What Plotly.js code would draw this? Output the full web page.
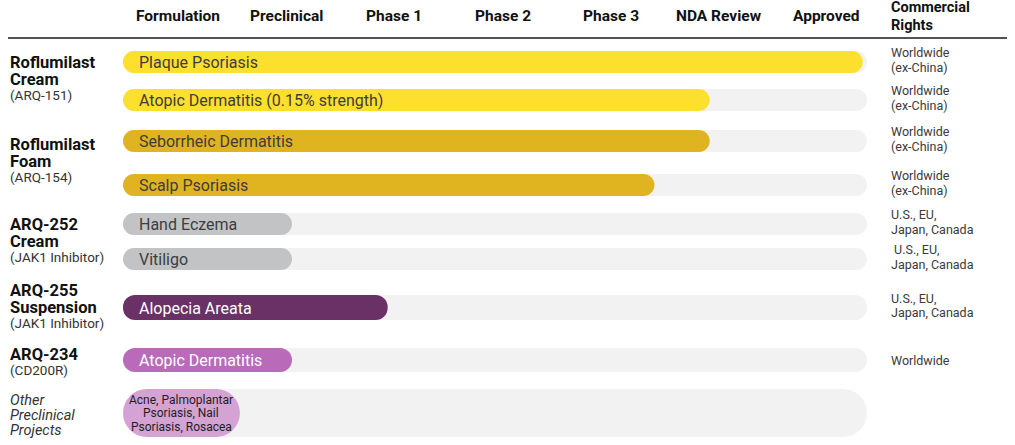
<!DOCTYPE html>
<html>
<head>
<meta charset="utf-8">
<script src="https://cdn.plot.ly/plotly-3.0.1.min.js"></script>
<style>html,body{margin:0;padding:0;background:#fff;}#chart{width:1015px;height:445px;}</style>
</head>
<body>
<div id="chart"></div>
<script>
// ---------- DATA ----------
const phases = ["Formulation", "Preclinical", "Phase 1", "Phase 2", "Phase 3", "NDA Review", "Approved"];
const indications = ["Plaque Psoriasis", "Atopic Dermatitis (0.15% strength)", "Seborrheic Dermatitis", "Scalp Psoriasis",
  "Hand Eczema", "Vitiligo", "Alopecia Areata", "Atopic Dermatitis", "Acne, Palmoplantar<br>Psoriasis, Nail<br>Psoriasis, Rosacea"];
const progress = [6.96, 5.52, 5.52, 5.0, 1.59, 1.59, 2.49, 1.59, 1.10];   // in phase units
const trackLength = 7;
const rights = ["Worldwide<br>(ex-China)", "Worldwide<br>(ex-China)", "Worldwide<br>(ex-China)", "Worldwide<br>(ex-China)",
  "U.S., EU,<br>Japan, Canada", " U.S., EU,<br>Japan, Canada", "U.S., EU,<br>Japan, Canada", "Worldwide", ""];
const productTitles = [["Roflumilast", "Cream"], ["Roflumilast", "Foam"], ["ARQ-252", "Cream"], ["ARQ-255", "Suspension"], ["ARQ-234"]];
const productSubtitles = ["(ARQ-151)", "(ARQ-154)", "(JAK1 Inhibitor)", "(JAK1 Inhibitor)", "(CD200R)"];
const otherLabel = ["Other", "Preclinical", "Projects"];
const rightsHeader = ["Commercial", "Rights"];

// ---------- LAYOUT / STYLE ----------
const rowY = [62, 100, 141, 185, 224, 259, 307.5, 360, 413];
const rowH = [22, 22, 22, 22, 22, 22, 25, 24, 48];
const barColors = ["#fddf2e", "#fddf2e", "#e0b421", "#e0b421", "#c1c3c4", "#c1c3c4", "#693165", "#b96ab8", "#d5a2d4"];
const textColors = ["#3d3d3d", "#3d3d3d", "#3d3d3d", "#3d3d3d", "#3d3d3d", "#3d3d3d", "#ffffff", "#ffffff", "#1e1e1e"];
const productTopY = [62, 144, 224, 290, 354];
const otherTopY = 400;
const FONT = "Roboto, 'Open Sans', sans-serif";
const L = 123, R = 148, W = 1015;
const plotW = W - L - R;
const px2paper = p => (p - L) / plotW;

const traces = [
  {
    type: "bar", orientation: "h", base: 0,
    y: rowY, x: rowY.map(() => trackLength), width: rowH,
    marker: { color: "#f2f2f2", cornerradius: "50%" },
    hoverinfo: "skip", showlegend: false
  },
  {
    type: "bar", orientation: "h", base: 0,
    y: rowY, x: progress, width: rowH,
    marker: { color: barColors, cornerradius: "50%" },
    hoverinfo: "skip", showlegend: false
  }
];

const annotations = [];
// column headers
phases.forEach((p, i) => {
  annotations.push({
    xref: "x", yref: "y", x: 0.52 + i * 1.017, y: 16, text: p, showarrow: false,
    xanchor: "center", yanchor: "middle",
    font: { family: FONT, size: 15.5, color: "#111", weight: 700 }
  });
});
rightsHeader.forEach((t, i) => {
  annotations.push({
    xref: "paper", yref: "y", x: px2paper(889), y: 7 + i * 18, text: t, showarrow: false,
    xanchor: "left", yanchor: "middle",
    font: { family: FONT, size: 14.5, color: "#111", weight: 700 }
  });
});
// bar labels
indications.forEach((t, i) => {
  const isOther = i === indications.length - 1;
  if (isOther) {
    const lines = t.split("<br>");
    lines.forEach((ln, k) => {
      annotations.push({
        xref: "x", yref: "y", x: progress[i] / 2, y: rowY[i] + (k - (lines.length - 1) / 2) * 13.5,
        text: ln, showarrow: false, xanchor: "center", yanchor: "middle",
        font: { family: FONT, size: 12, color: textColors[i] }
      });
    });
  } else {
    annotations.push({
      xref: "x", yref: "y", x: 0, y: rowY[i] + 0.5, xshift: 14,
      text: t, showarrow: false, xanchor: "left", yanchor: "middle",
      font: { family: FONT, size: 16, color: textColors[i] }
    });
  }
});
// rights
rights.forEach((t, i) => {
  if (!t) return;
  const lines = t.split("<br>");
  lines.forEach((ln, k) => {
    annotations.push({
      xref: "paper", yref: "y", x: px2paper(889),
      y: lines.length > 1 ? rowY[i] - 9.5 + k * 14.5 : rowY[i],
      text: ln, showarrow: false, xanchor: "left", yanchor: "middle",
      font: { family: FONT, size: 12.5, color: "#3a3a3a" }
    });
  });
});
// product labels
productTitles.forEach((lines, g) => {
  lines.forEach((t, k) => {
    annotations.push({
      xref: "paper", yref: "y", x: px2paper(8), y: productTopY[g] + k * 17, text: t, showarrow: false,
      xanchor: "left", yanchor: "middle",
      font: { family: FONT, size: 16.5, color: "#111", weight: 700 }
    });
  });
  annotations.push({
    xref: "paper", yref: "y", x: px2paper(8), y: productTopY[g] + lines.length * 17 - 1, text: productSubtitles[g], showarrow: false,
    xanchor: "left", yanchor: "middle",
    font: { family: FONT, size: 13.5, color: "#333" }
  });
});
otherLabel.forEach((t, k) => {
  annotations.push({
    xref: "paper", yref: "y", x: px2paper(8), y: otherTopY + k * 15, text: "<i>" + t + "</i>", showarrow: false,
    xanchor: "left", yanchor: "middle",
    font: { family: FONT, size: 14.5, color: "#333" }
  });
});

const layout = {
  width: W, height: 445,
  margin: { l: L, r: R, t: 0, b: 0, pad: 0 },
  paper_bgcolor: "#fff", plot_bgcolor: "#fff",
  barmode: "overlay",
  xaxis: { range: [0, trackLength], visible: false, fixedrange: true },
  yaxis: { range: [445, 0], visible: false, fixedrange: true },
  showlegend: false,
  annotations: annotations,
  shapes: [{
    type: "line", xref: "paper", yref: "y",
    x0: px2paper(8), x1: px2paper(1007), y0: 38, y1: 38,
    line: { color: "#1a1a1a", width: 1.3 }
  }]
};

Plotly.newPlot("chart", traces, layout, { displayModeBar: false, staticPlot: true });
</script>
</body>
</html>
